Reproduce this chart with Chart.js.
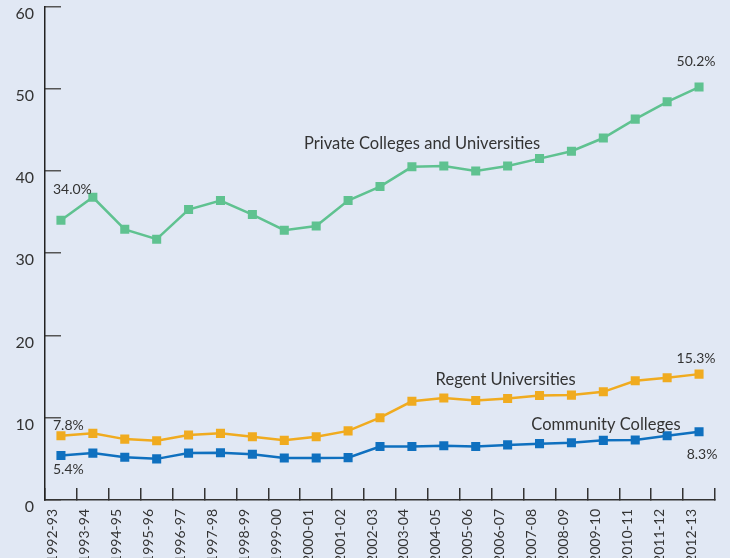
<!DOCTYPE html>
<html>
<head>
<meta charset="utf-8">
<script src="https://cdn.jsdelivr.net/npm/chart.js@4"></script>
<style>
  html, body { margin: 0; padding: 0; background: #e1e8f4; }
  #wrap { width: 730px; height: 558px; }
</style>
</head>
<body>
<div id="wrap"><canvas id="chart" width="730" height="558"></canvas></div>
<script>
// ── Data ──────────────────────────────────────────────────────
const years = [
    '1992-93', '1993-94', '1994-95', '1995-96', '1996-97', '1997-98', '1998-99',
    '1999-00', '2000-01', '2001-02', '2002-03', '2003-04', '2004-05', '2005-06',
    '2006-07', '2007-08', '2008-09', '2009-10', '2010-11', '2011-12', '2012-13'
];
const privateColleges = [
    34.0, 36.8, 32.9, 31.7, 35.3, 36.4, 34.7, 32.8, 33.3, 36.4, 38.1,
    40.5, 40.6, 40.0, 40.6, 41.5, 42.4, 44.0, 46.3, 48.4, 50.2
];
const regentUniversities = [
    7.8, 8.1, 7.4, 7.2, 7.9, 8.1, 7.7, 7.25, 7.7, 8.4, 10.0,
    12.0, 12.4, 12.1, 12.35, 12.7, 12.75, 13.15, 14.5, 14.85, 15.3
];
const communityColleges = [
    5.4, 5.7, 5.2, 5.0, 5.7, 5.75, 5.55, 5.1, 5.1, 5.15, 6.5,
    6.5, 6.6, 6.5, 6.7, 6.85, 6.95, 7.25, 7.3, 7.8, 8.3
];
const yTicks = [0, 10, 20, 30, 40, 50, 60];

const GREEN = '#5fc290';
const YELLOW = '#f0ab1f';
const BLUE = '#0f70bf';
const TEXT = '#333333';
const FONT = 'Lato, "Noto Sans", sans-serif';

// ── Annotations (endpoint values + series names) ─────────────
// idx = data index to anchor to, dx/dy = pixel offset from that point
const annotations = [
    { data: privateColleges, idx: 0, text: '34.0%', dx: -8, dy: -31, align: 'left' },
    { data: regentUniversities, idx: 0, text: '7.8%', dx: -8, dy: -10, align: 'left' },
    { data: communityColleges, idx: 0, text: '5.4%', dx: -8, dy: 14, align: 'left' },
    { data: privateColleges, idx: 20, text: '50.2%', dx: -3, dy: -26, align: 'center' },
    { data: regentUniversities, idx: 20, text: '15.3%', dx: -3, dy: -16, align: 'center' },
    { data: communityColleges, idx: 20, text: '8.3%', dx: 3, dy: 23, align: 'center' },
];
const seriesNames = [
    { data: privateColleges, idx: 10, text: 'Private Colleges and Universities', dx: -76, dy: -43 },
    { data: regentUniversities, idx: 14, text: 'Regent Universities', dx: -72, dy: -19 },
    { data: communityColleges, idx: 17, text: 'Community Colleges', dx: -72, dy: -16 },
];

const labelPlugin = {
    id: 'seriesLabels',
    afterDatasetsDraw(chart) {
        const { ctx, scales: { x, y } } = chart;
        ctx.save();
        ctx.fillStyle = TEXT;
        ctx.textBaseline = 'middle';
        ctx.font = '14px ' + FONT;
        annotations.forEach(a => {
            ctx.textAlign = a.align;
            ctx.fillText(a.text, x.getPixelForValue(a.idx) + a.dx, y.getPixelForValue(a.data[a.idx]) + a.dy);
        });
        ctx.font = '16.5px ' + FONT;
        ctx.textAlign = 'left';
        seriesNames.forEach(a => {
            ctx.fillText(a.text, x.getPixelForValue(a.idx) + a.dx, y.getPixelForValue(a.data[a.idx]) + a.dy);
        });
        ctx.restore();
    }
};

function series(label, data, color) {
    return {
        label,
        data,
        borderColor: color,
        backgroundColor: color,
        borderWidth: 2.5,
        pointStyle: 'rect',
        pointRadius: 6.4,
        pointBorderWidth: 0,
        tension: 0,
    };
}

// keep the plot area fixed: no extra room reserved for edge labels
function noEdgePadding(scale) {
    scale.paddingTop = 0;
    scale.paddingBottom = 0;
    scale.paddingLeft = 0;
    scale.paddingRight = 0;
}

new Chart(document.getElementById('chart'), {
    type: 'line',
    data: {
        labels: years,
        datasets: [
            series('Private Colleges and Universities', privateColleges, GREEN),
            series('Regent Universities', regentUniversities, YELLOW),
            series('Community Colleges', communityColleges, BLUE),
        ],
    },
    options: {
        responsive: false,
        animation: false,
        layout: { padding: { top: 6, right: 15, left: 0, bottom: 0 } },
        plugins: { legend: { display: false }, tooltip: { enabled: false } },
        scales: {
            x: {
                offset: true,
                grid: {
                    offset: true,
                    drawOnChartArea: false,
                    drawTicks: true,
                    tickLength: -12,
                    color: '#333',
                    lineWidth: 1.5,
                },
                border: { color: '#333', width: 1.5 },
                ticks: {
                    autoSkip: false,
                    minRotation: 90,
                    maxRotation: 90,
                    padding: 21,
                    labelOffset: -8,
                    color: TEXT,
                    font: { family: FONT, size: 14 },
                },
                afterFit(scale) { scale.height = 58; noEdgePadding(scale); },
            },
            y: {
                min: 0,
                max: 60,
                afterBuildTicks(scale) { scale.ticks = yTicks.map(v => ({ value: v })); },
                grid: {
                    drawOnChartArea: false,
                    drawTicks: true,
                    tickLength: -16,
                    color: '#555',
                    lineWidth: 1.5,
                },
                border: { color: '#222', width: 1.5 },
                ticks: {
                    padding: 27,
                    labelOffset: 7,
                    color: TEXT,
                    font: { family: FONT, size: 16 },
                },
                afterFit(scale) { scale.width = 45; noEdgePadding(scale); },
            },
        },
    },
    plugins: [labelPlugin],
});
</script>
</body>
</html>
